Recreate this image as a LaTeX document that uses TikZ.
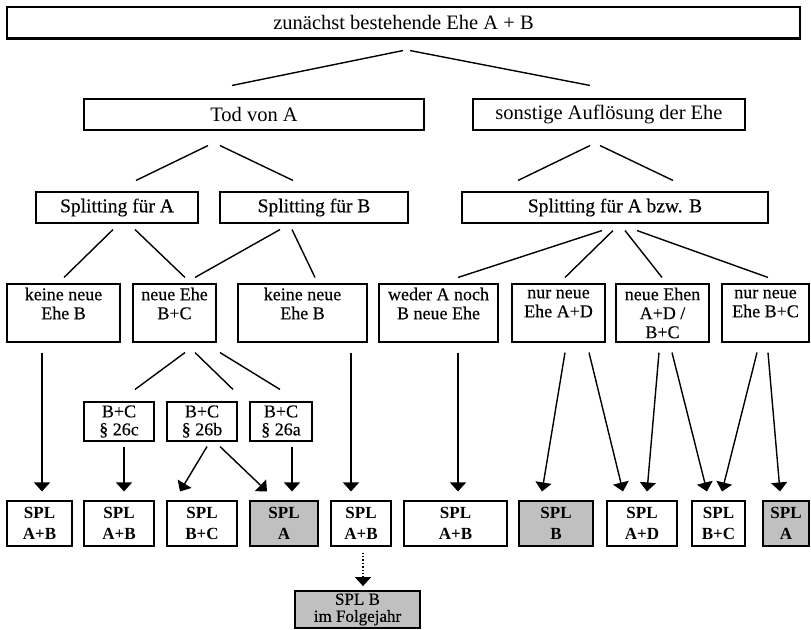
\documentclass[tikz,border=0pt]{standalone}
\usepackage{fontspec}
\setmainfont{Liberation Serif}
\newfontfamily\heavyfont[FakeBold=0.35]{Liberation Serif}
\usetikzlibrary{arrows.meta,calc}
\definecolor{grayfill}{HTML}{C0C0C0}
\begin{document}
\begin{tikzpicture}[x=1pt,y=-1pt,
  box/.style={draw,line width=1.1pt,inner sep=0pt,align=center},
  gbox/.style={box,fill=grayfill},
  conn/.style={line width=1.4pt},
  arr/.style={conn,-{Triangle[width=16pt,length=9pt]}},
  darr/.style={conn,dotted,-{Triangle[width=16pt,length=9pt]}},
  fbig/.style={font=\fontsize{20.5}{24}\selectfont},
  fmid/.style={font=\heavyfont\fontsize{19.5}{22}\selectfont},
  frow/.style={font=\heavyfont\fontsize{18}{19}\selectfont},
  fsmall/.style={font=\heavyfont\fontsize{18}{18}\selectfont},
  fspl/.style={font=\fontsize{17}{21}\selectfont\bfseries},
  ffolge/.style={font=\heavyfont\fontsize{17}{17}\selectfont},
  rowthree/.style={box,frow,minimum height=58pt},
  rowfour/.style={box,fsmall,minimum height=39pt},
  rowfive/.style={box,fspl,minimum height=45pt},
  rowfivegray/.style={gbox,fspl,minimum height=45pt}
]
\useasboundingbox (0,0) rectangle (811,629);

% level 1
\node[box,fbig,minimum width=793pt,minimum height=31pt] (top) at (403.5,22.5) {zunächst bestehende Ehe A + B};
\draw[line width=2.6pt] (top.south west) -- (top.south east);

% level 2
\node[box,fbig,minimum width=340pt,minimum height=31pt] (tod) at (254,114.5) {Tod von A};
\node[box,fbig,minimum width=272pt,minimum height=31pt] (sonst) at (609,114.5) {sonstige Auflösung der Ehe};

% level 3
\node[box,fmid,minimum width=162pt,minimum height=31pt] (splA) at (117,207.5) {Splitting für A};
\node[box,fmid,minimum width=188pt,minimum height=31pt] (splB) at (314,207.5) {Splitting für B};
\node[box,fmid,minimum width=306pt,minimum height=31pt] (splAB) at (615,207.5) {Splitting für A bzw. B};

% level 4
\node[rowthree,minimum width=113pt] (r1) at (63.5,313) {keine neue\\Ehe B\\\phantom{B}};
\node[rowthree,minimum width=83pt] (r2) at (174.5,313) {neue Ehe\\B+C\\\phantom{B}};
\node[rowthree,minimum width=129pt] (r3) at (302.5,313) {keine neue\\Ehe B\\\phantom{B}};
\node[rowthree,minimum width=119pt] (r4) at (438.5,313) {weder A noch\\B neue Ehe\\\phantom{B}};
\node[rowthree,minimum width=93pt] (r5) at (558.5,313) {nur neue\\Ehe A+D\\\phantom{B}};
\node[rowthree,minimum width=93pt] (r6) at (662.5,313) {neue Ehen\\A+D /\\B+C};
\node[rowthree,minimum width=87pt] (r7) at (765.5,313) {nur neue\\Ehe B+C\\\phantom{B}};

% level 5
\node[rowfour,minimum width=70pt] (pc) at (119,421.5) {B+C\\§ 26c};
\node[rowfour,minimum width=70pt] (pb) at (202,421.5) {B+C\\§ 26b};
\node[rowfour,minimum width=62pt] (pa) at (281,421.5) {B+C\\§ 26a};

% level 6
\node[rowfive,minimum width=65pt] (s1) at (39.5,523.5) {SPL\\A+B};
\node[rowfive,minimum width=70pt] (s2) at (119,523.5) {SPL\\A+B};
\node[rowfive,minimum width=70pt] (s3) at (202,523.5) {SPL\\B+C};
\node[rowfivegray,minimum width=68pt] (s4) at (284,523.5) {SPL\\A};
\node[rowfive,minimum width=60pt] (s5) at (361,523.5) {SPL\\A+B};
\node[rowfive,minimum width=103pt] (s6) at (455.5,523.5) {SPL\\A+B};
\node[rowfivegray,minimum width=74pt] (s7) at (556,523.5) {SPL\\B};
\node[rowfive,minimum width=70pt] (s8) at (642,523.5) {SPL\\A+D};
\node[rowfive,minimum width=53pt] (s9) at (718.5,523.5) {SPL\\B+C};
\node[rowfivegray,minimum width=46pt] (s10) at (786,523.5) {SPL\\A};

% level 7
\node[gbox,ffolge,line width=1.8pt,minimum width=125pt,minimum height=37pt] (folge) at (357.5,609.5) {SPL B\\im Folgejahr};

% connectors
\draw[conn] ($(top.south)+(-0.5,12)$) -- ($(tod.north)+(-22,-13)$);
\draw[conn] ($(top.south)+(6.5,12)$) -- ($(sonst.north)+(-19,-13)$);

\draw[conn] ($(tod.south)+(-46,15)$) -- ($(splA.north)+(19,-11)$);
\draw[conn] ($(tod.south)+(-34,15)$) -- ($(splB.north)+(-21,-11)$);
\draw[conn] ($(sonst.south)+(-19,15)$) -- ($(splAB.north)+(-97,-11)$);
\draw[conn] ($(sonst.south)+(-9,15)$) -- ($(splAB.north)+(58,-11)$);

\draw[conn] ($(splA.south)+(-4,6)$) -- ($(r1.north)+(0.5,-6)$);
\draw[conn] ($(splA.south)+(18,6)$) -- ($(r2.north)+(10.5,-6)$);
\draw[conn] ($(splB.south)+(-34,6)$) -- ($(r2.north)+(20.5,-6)$);
\draw[conn] ($(splB.south)+(-22,6)$) -- ($(r3.north)+(12.5,-6)$);

\draw[conn] ($(splAB.south)+(-13,7)$) -- ($(r4.north)+(19.5,-6)$);
\draw[conn] ($(splAB.south)+(-2,7)$) -- ($(r5.north)+(6.5,-6)$);
\draw[conn] ($(splAB.south)+(10,7)$) -- ($(r6.north)+(-0.5,-6)$);
\draw[conn] ($(splAB.south)+(22,7)$) -- ($(r7.north)+(2.5,-6)$);

\draw[conn] ($(r2.south)+(10.5,10)$) -- ($(pc.north)+(16,-12)$);
\draw[conn] ($(r2.south)+(20.5,10)$) -- ($(pb.north)+(31,-12)$);
\draw[conn] ($(r2.south)+(45.5,10)$) -- ($(pa.north)+(-1,-12)$);

\draw[arr] ($(r1.south)+(-21.5,10)$) -- ($(s1.north)+(2.5,-9)$);
\draw[arr] ($(r3.south)+(48.5,10)$) -- ($(s5.north)+(-10,-9)$);
\draw[arr] ($(pc.south)+(5,5)$) -- ($(s2.north)+(5,-9)$);
\draw[arr] ($(pb.south)+(5,5)$) -- ($(s3.north)+(-22,-9)$);
\draw[arr] ($(pb.south)+(18,5)$) -- ($(s4.north)+(-17,-9)$);
\draw[arr] ($(pa.south)+(11,5)$) -- ($(s4.north)+(8,-9)$);
\draw[darr] ($(s5.south)+(2,6)$) -- ($(folge.north)+(5.5,-4)$);

\draw[arr] ($(r4.south)+(19.5,10)$) -- ($(s6.north)+(2.5,-9)$);
\draw[arr] ($(r5.south)+(6.5,10)$) -- ($(s7.north)+(-14,-9)$);
\draw[arr] ($(r5.south)+(30.5,10)$) -- ($(s8.north)+(-19,-9)$);
\draw[arr] ($(r6.south)+(-3.5,10)$) -- ($(s8.north)+(5,-9)$);
\draw[arr] ($(r6.south)+(9.5,10)$) -- ($(s9.north)+(-11.5,-9)$);
\draw[arr] ($(r7.south)+(-8.5,10)$) -- ($(s9.north)+(3.5,-9)$);
\draw[arr] ($(r7.south)+(2.5,10)$) -- ($(s10.north)+(-6,-9)$);
\end{tikzpicture}
\end{document}
